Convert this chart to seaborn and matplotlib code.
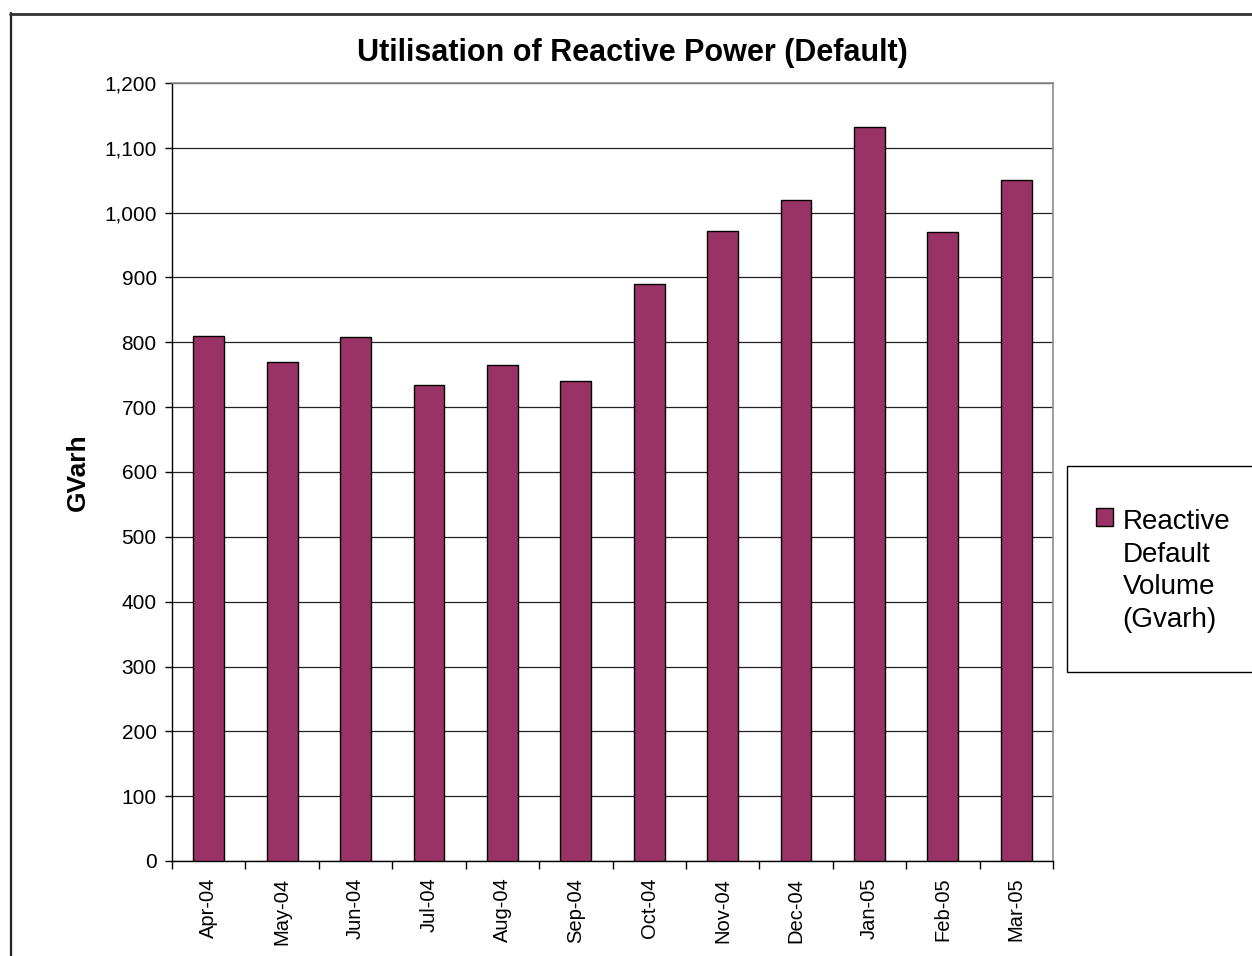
import matplotlib
matplotlib.use("Agg")
import matplotlib.pyplot as plt
import seaborn as sns
import pandas as pd
from matplotlib.patches import Rectangle
from matplotlib.lines import Line2D
from matplotlib.legend_handler import HandlerPatch
from matplotlib.ticker import FixedLocator, MultipleLocator, FuncFormatter

months = ["Apr-04", "May-04", "Jun-04", "Jul-04", "Aug-04", "Sep-04",
          "Oct-04", "Nov-04", "Dec-04", "Jan-05", "Feb-05", "Mar-05"]
volume = [810, 770, 808, 734, 765, 740, 890, 972, 1020, 1132, 970, 1050]
series_name = "Reactive\nDefault\nVolume\n(Gvarh)"
title = "Utilisation of Reactive Power (Default)"
y_label = "GVarh"

sns.set_theme(style="white")
plt.rcParams["font.family"] = ["Liberation Sans", "DejaVu Sans"]

W, H = 1252, 956
fig = plt.figure(figsize=(W / 100, H / 100), dpi=100)
ax = fig.add_axes([172 / W, 1 - 861 / H, (1053 - 172) / W, (861 - 83) / H])

df = pd.DataFrame({"Month": months, "Volume": volume})
sns.barplot(data=df, x="Month", y="Volume", color="#993366", saturation=1,
            edgecolor="black", linewidth=1.0, width=0.42, ax=ax, zorder=3)
if ax.get_legend() is not None:
    ax.get_legend().remove()

ax.set_xlim(-0.5, len(months) - 0.5)
ax.set_ylim(0, 1200)
ax.yaxis.set_major_locator(MultipleLocator(100))
ax.yaxis.set_major_formatter(FuncFormatter(lambda v, p: f"{int(v):,}"))
ax.grid(axis="y", color="#222222", linewidth=0.9, zorder=0)
ax.set_axisbelow(True)

for s in ["top", "right"]:
    ax.spines[s].set_color("#8c8c8c")
    ax.spines[s].set_linewidth(1.2)
for s in ["left", "bottom"]:
    ax.spines[s].set_color("black")
    ax.spines[s].set_linewidth(1.0)

ax.tick_params(axis="y", which="major", left=True, length=5, width=1,
               color="black", pad=6, labelsize=15, labelcolor="black")
ax.tick_params(axis="x", which="major", bottom=True, length=0, pad=12,
               labelsize=14.5, labelcolor="black", labelrotation=90)
ax.xaxis.set_minor_locator(FixedLocator([i - 0.5 for i in range(len(months) + 1)]))
ax.tick_params(axis="x", which="minor", bottom=True, length=6, width=1, color="black")
for lbl in ax.get_xticklabels():
    lbl.set_va("top")
    lbl.set_ha("center")

ax.set_xlabel("")
ax.set_ylabel(y_label, fontsize=19, fontweight="bold", color="black")
ax.yaxis.set_label_coords((90 - 172) / (1053 - 172), 0.5)

fig.text(632 / W, 1 - 53 / H, title, fontsize=22, fontweight="bold",
         ha="center", va="center", color="black")

# legend box
fig.patches.append(Rectangle((1067 / W, 1 - 672 / H), 250 / W, (672 - 466) / H,
                             transform=fig.transFigure, facecolor="white",
                             edgecolor="black", linewidth=1.0, zorder=1))

LS = 1.33


class TopHandler(HandlerPatch):
    def create_artists(self, legend, orig_handle, xdescent, ydescent, width,
                       height, fontsize, trans):
        shift = 1.5 * LS * fontsize * 0.98
        p = Rectangle((-xdescent, -ydescent + shift), width, height)
        self.update_prop(p, orig_handle, legend)
        p.set_transform(trans)
        return [p]


handle = Rectangle((0, 0), 1, 1, facecolor="#993366", edgecolor="black", linewidth=1.0)
leg = fig.legend([handle], [series_name], loc="center left",
                 bbox_to_anchor=(1096 / W, 1 - 571 / H), frameon=False,
                 fontsize=20, handlelength=0.6, handleheight=0.6,
                 handletextpad=0.35, borderpad=0, borderaxespad=0,
                 labelcolor="black",
                 handler_map={Rectangle: TopHandler()})
for t in leg.get_texts():
    t.set_linespacing(LS)
leg.set_zorder(5)

# outer chart border (left and top visible)
fig.add_artist(Line2D([11 / W, 11 / W], [0, 1 - 13 / H], transform=fig.transFigure,
                      color="#222222", linewidth=1.6))
fig.add_artist(Line2D([10 / W, 1.0], [1 - 14 / H, 1 - 14 / H], transform=fig.transFigure,
                      color="#333333", linewidth=2.0))

fig.savefig("out.png", dpi=100, facecolor="white")
